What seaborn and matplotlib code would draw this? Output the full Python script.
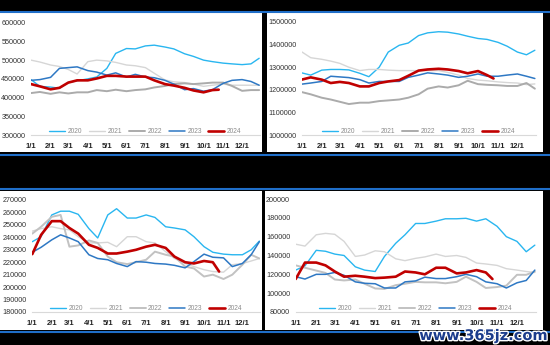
import matplotlib
matplotlib.use("Agg")
import matplotlib.pyplot as plt
import matplotlib.patheffects as pe
from matplotlib.patches import Rectangle
from matplotlib.lines import Line2D
from matplotlib.ticker import FuncFormatter
import seaborn as sns
import pandas as pd

# ---------------- data ----------------
DATES = ["1/1", "1/15", "2/1", "2/15", "3/1", "3/15", "4/1", "4/15", "5/1", "5/15",
         "6/1", "6/15", "7/1", "7/15", "8/1", "8/15", "9/1", "9/15", "10/1", "10/15",
         "11/1", "11/15", "12/1", "12/15", "12/28"]
DATES_2024 = DATES[:20] + ["10/25"]
YEARS = ["2020", "2021", "2022", "2023", "2024"]
MONTH_TICKS = ["1/1", "2/1", "3/1", "4/1", "5/1", "6/1", "7/1", "8/1", "9/1",
               "10/1", "11/1", "12/1"]

p1_2020 = [448000, 430000, 428000, 425000, 440000, 445000, 450000, 455000, 478000, 518000,
           531000, 530000, 538000, 540000, 535000, 530000, 517000, 510000, 500000, 496000,
           492000, 490000, 488000, 490000, 505000]
p1_2021 = [500000, 495000, 487000, 483000, 475000, 463000, 496000, 500000, 498000, 494000,
           487000, 485000, 480000, 465000, 447000, 442000, 440000, 436000, 430000, 433000,
           436000, 433000, 433000, 433000, 433000]
p1_2022 = [412000, 415000, 410000, 414000, 411000, 414000, 414000, 420000, 417000, 421000,
           417000, 420000, 422000, 427000, 431000, 436000, 438000, 436000, 438000, 440000,
           440000, 431000, 418000, 420000, 420000]
p1_2023 = [446000, 448000, 454000, 478000, 480000, 482000, 472000, 468000, 460000, 466000,
           455000, 462000, 455000, 453000, 446000, 436000, 421000, 424000, 417000, 421000,
           438000, 446000, 448000, 443000, 433000]
p1_2024 = [436000, 430000, 422000, 426000, 440000, 446000, 446000, 451000, 458000, 458000,
           456000, 456000, 456000, 446000, 436000, 432000, 426000, 419000, 414000, 420000,
           421000]

p2_2020 = [1275000, 1265000, 1287000, 1290000, 1290000, 1288000, 1273000, 1258000, 1300000, 1367000,
           1397000, 1407000, 1440000, 1452000, 1457000, 1455000, 1447000, 1437000, 1427000, 1423000,
           1410000, 1393000, 1367000, 1355000, 1375000]
p2_2021 = [1368000, 1342000, 1335000, 1327000, 1317000, 1300000, 1285000, 1290000, 1290000, 1287000,
           1285000, 1285000, 1285000, 1285000, 1285000, 1277000, 1265000, 1250000, 1243000, 1240000,
           1235000, 1232000, 1230000, 1223000, 1226000]
p2_2022 = [1190000, 1180000, 1165000, 1157000, 1147000, 1137000, 1143000, 1143000, 1150000, 1153000,
           1157000, 1165000, 1180000, 1205000, 1215000, 1210000, 1220000, 1240000, 1225000, 1222000,
           1220000, 1217000, 1217000, 1230000, 1205000]
p2_2023 = [1225000, 1230000, 1237000, 1260000, 1257000, 1254000, 1245000, 1230000, 1237000, 1237000,
           1237000, 1255000, 1265000, 1275000, 1270000, 1265000, 1255000, 1260000, 1270000, 1260000,
           1260000, 1265000, 1270000, 1260000, 1250000]
p2_2024 = [1245000, 1255000, 1245000, 1230000, 1235000, 1230000, 1215000, 1215000, 1230000, 1237000,
           1243000, 1262000, 1285000, 1290000, 1293000, 1290000, 1283000, 1273000, 1283000, 1265000,
           1250000]

p3_2020 = [236500, 240500, 258000, 261000, 261000, 258500, 247000, 239500, 258000, 263000,
           255500, 255500, 258000, 256000, 248500, 247500, 246000, 240500, 232500, 228000,
           226500, 226000, 226000, 230000, 237000]
p3_2021 = [245000, 247000, 248500, 247000, 246000, 240500, 235500, 235500, 236000, 232500,
           240500, 240500, 236500, 235500, 228500, 223000, 219000, 216500, 214000, 212500,
           212000, 218000, 219000, 221000, 223000]
p3_2022 = [243000, 248500, 256500, 258000, 232500, 233500, 237500, 235500, 224500, 220000,
           218500, 220000, 222000, 228500, 226000, 224500, 216500, 215000, 208500, 210000,
           206500, 210000, 218000, 226000, 223000]
p3_2023 = [228000, 232000, 238000, 242000, 239500, 236500, 226000, 223000, 222000, 219000,
           216500, 220500, 220000, 219000, 218500, 217500, 215500, 220500, 226500, 224000,
           223500, 216500, 219000, 226000, 236500]
p3_2024 = [226500, 242000, 253000, 253000, 247500, 243000, 234000, 231500, 227000, 227000,
           228500, 230000, 232500, 234000, 231500, 224500, 220000, 219000, 221000, 220000,
           212500]

p4_2020 = [124500, 129000, 145500, 144500, 141500, 140000, 128000, 124500, 123000, 139000,
           153000, 162000, 174000, 174000, 176500, 179000, 179000, 179500, 176500, 179000,
           171000, 160000, 155000, 144000, 151000]
p4_2021 = [152000, 150000, 162000, 163500, 162500, 155000, 139000, 140500, 145000, 144000,
           136500, 134500, 137000, 138500, 141500, 139000, 140000, 138000, 132000, 131000,
           129500, 126000, 124500, 123000, 122000]
p4_2022 = [129500, 127000, 124000, 121500, 114500, 113500, 114500, 110000, 105000, 104500,
           108500, 110000, 112000, 111500, 111500, 110500, 112000, 117500, 112000, 105500,
           106500, 108000, 119500, 119500, 123000]
p4_2023 = [117500, 115000, 120000, 120000, 122000, 119000, 112000, 110500, 110000, 105500,
           105500, 112000, 113000, 117000, 115500, 115500, 117500, 120000, 117500, 112000,
           110000, 105500, 111000, 113500, 124500]
p4_2024 = [115000, 132500, 132500, 129500, 123000, 117500, 118500, 117500, 116000, 116500,
           117500, 123000, 122000, 120000, 127000, 127000, 121000, 122000, 124500, 122000,
           115000]

PANELS = [
    ([p1_2020, p1_2021, p1_2022, p1_2023, p1_2024], (300000, 600000), 50000),
    ([p2_2020, p2_2021, p2_2022, p2_2023, p2_2024], (1000000, 1500000), 100000),
    ([p3_2020, p3_2021, p3_2022, p3_2023, p3_2024], (180000, 270000), 10000),
    ([p4_2020, p4_2021, p4_2022, p4_2023, p4_2024], (80000, 200000), 20000),
]

# ---------------- style ----------------
COLORS = {"2020": "#29B6F0", "2021": "#D6D6D6", "2022": "#ABABAB",
          "2023": "#2E78C4", "2024": "#C00000"}
WIDTHS = {"2020": 1.0, "2021": 1.0, "2022": 1.4, "2023": 1.1, "2024": 1.9}
COLORS_BOTTOM = dict(COLORS, **{"2022": "#C2C2C2"})

sns.set_style("white")
plt.rcParams["font.family"] = ["Liberation Sans", "DejaVu Sans"]


def doy(label):
    return pd.Timestamp("2021/" + label).dayofyear - 1


def make_df(series, dates_main, dates_last):
    rows = []
    for yr, vals in zip(YEARS, series):
        dts = dates_last if yr == "2024" else dates_main
        for d, v in zip(dts, vals):
            rows.append({"day": doy(d), "value": v, "year": yr})
    return pd.DataFrame(rows)


fig = plt.figure(figsize=(5.5, 3.45), dpi=100, facecolor="black")
W, H = 550.0, 345.0

# white panel backgrounds (px: x0, y0, x1, y1)
for x0, y0, x1, y1 in [(0, 13, 262, 152), (267, 13, 543, 152),
                       (0, 191, 262, 330), (265, 191, 543, 330)]:
    fig.add_artist(Rectangle((x0 / W, 1 - y1 / H), (x1 - x0) / W, (y1 - y0) / H,
                             transform=fig.transFigure, facecolor="white",
                             edgecolor="none", zorder=0))
for yb in [12, 155, 189, 332]:
    fig.add_artist(Line2D([0, 1], [1 - yb / H, 1 - yb / H], transform=fig.transFigure,
                          color="#1F6EC8", lw=1.5, zorder=1))

# axes positions (px): left, top, right, bottom
POS = [(31, 22.7, 259.8, 135), (301.7, 22, 535.5, 135),
       (32.3, 200, 260, 312), (295.7, 199, 535.5, 312)]
XMAX = 362

for i, ((series, ylim, step), (l, t, r, b)) in enumerate(zip(PANELS, POS)):
    ax = fig.add_axes([l / W, 1 - b / H, (r - l) / W, (b - t) / H])
    ax.set_facecolor("none")
    df = make_df(series, DATES, DATES_2024)
    cols = COLORS if i < 2 else COLORS_BOTTOM
    for yr in YEARS:
        sub = df[df["year"] == yr]
        sns.lineplot(data=sub, x="day", y="value", ax=ax, color=cols[yr],
                     lw=WIDTHS[yr], label=yr, zorder=3 if yr == "2024" else 2)
    ax.set_xlim(0, XMAX)
    ax.set_ylim(*ylim)
    ax.set_yticks(list(range(ylim[0], ylim[1] + 1, step)))
    ax.yaxis.set_major_formatter(FuncFormatter(lambda v, p: f"{int(round(v))}"))
    ax.set_xticks([doy(m) for m in MONTH_TICKS])
    ax.set_xticklabels(MONTH_TICKS)
    ax.set_xlabel("")
    ax.set_ylabel("")
    for s in ["top", "right", "left"]:
        ax.spines[s].set_visible(False)
    ax.spines["bottom"].set_color("#D9D9D9")
    ax.spines["bottom"].set_linewidth(0.8)
    ax.tick_params(axis="x", length=2.5, width=0.6, color="#D9D9D9", pad=3,
                   labelsize=5.5, labelcolor="#222222")
    for lab in ax.get_xticklabels():
        lab.set_fontweight("bold")
    ax.tick_params(axis="y", length=0, pad=4, labelsize=5.2, labelcolor="#333333")
    ax.legend(loc="lower center", bbox_to_anchor=(0.5, -0.035), ncol=5, frameon=False,
              fontsize=4.8, handlelength=2.4, columnspacing=1.0, handletextpad=0.4,
              labelcolor="#8C8C8C", borderaxespad=0.2)

fig.text(548 / W, 1 - 343 / H, "www.365jz.com", ha="right", va="bottom", fontsize=10.5,
         color="#1B3C8C", fontweight="bold", family="DejaVu Sans",
         path_effects=[pe.withStroke(linewidth=2, foreground="white")], zorder=10)

fig.savefig("out.png", dpi=100, facecolor="black")
